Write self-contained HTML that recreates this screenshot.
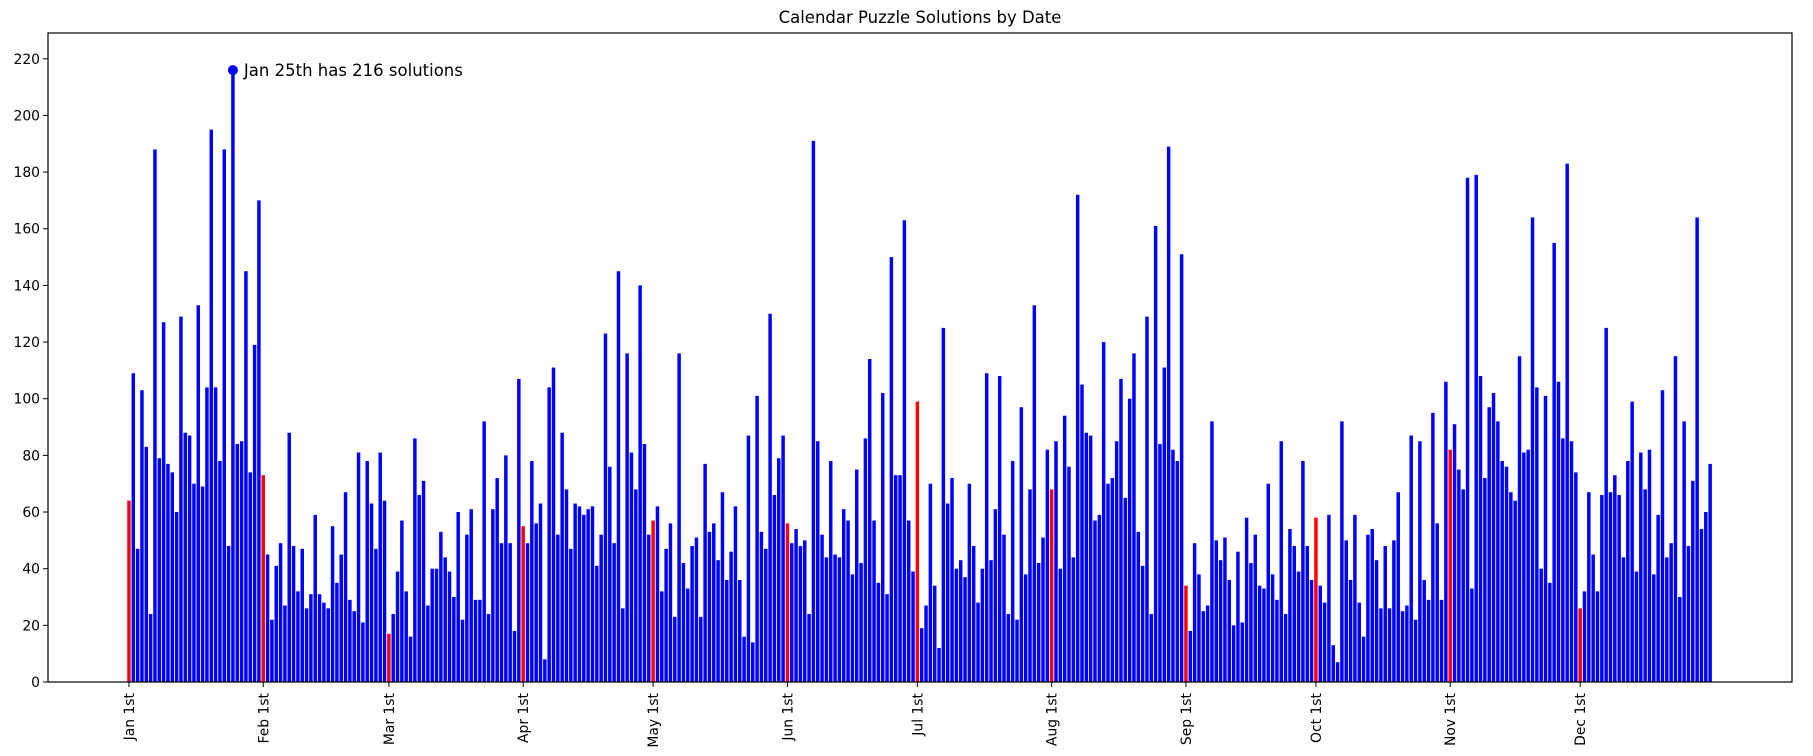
<!DOCTYPE html>
<html><head><meta charset="utf-8"><style>
html,body{margin:0;padding:0;background:#fff;}
svg{display:block;font-family:"DejaVu Sans","Liberation Sans",sans-serif;}
</style></head><body>
<svg id="chart" width="1813" height="756" viewBox="0 0 1813 756" xmlns="http://www.w3.org/2000/svg">
<rect width="1813" height="756" fill="#fff"/>
<text x="920" y="23" text-anchor="middle" font-size="16.5" fill="#000">Calendar Puzzle Solutions by Date</text>
<g id="bars"></g><g id="yaxis"></g><g id="xaxis"></g><g id="annot"></g>
<rect x="48" y="33" width="1744" height="649" fill="none" stroke="#000" stroke-width="1.2"/>
</svg>
<script>
const jan=[64,109,47,103,83,24,188,79,127,77,74,60,129,88,87,70,133,69,104,195,104,78,188,48,216,84,85,145,74,119,170];
const feb=[73,45,22,41,49,27,88,48,32,47,26,31,59,31,28,26,55,35,45,67,29,25,81,21,78,63,47,81,64];
const mar=[17,24,39,57,32,16,86,66,71,27,40,40,53,44,39,30,60,22,52,61,29,29,92,24,61,72,49,80,49,18,107];
const apr=[55,49,78,56,63,8,104,111,52,88,68,47,63,62,59,61,62,41,52,123,76,49,145,26,116,81,68,140,84,52];
const may=[57,62,32,47,56,23,116,42,33,48,51,23,77,53,56,43,67,36,46,62,36,16,87,14,101,53,47,130,66,79,87];
const jun=[56,49,54,48,50,24,191,85,52,44,78,45,44,61,57,38,75,42,86,114,57,35,102,31,150,73,73,163,57,39];
const jul=[99,19,27,70,34,12,125,63,72,40,43,37,70,48,28,40,109,43,61,108,52,24,78,22,97,38,68,133,42,51,82];
const aug=[68,85,40,94,76,44,172,105,88,87,57,59,120,70,72,85,107,65,100,116,53,41,129,24,161,84,111,189,82,78,151];
const sep=[34,18,49,38,25,27,92,50,43,51,36,20,46,21,58,42,52,34,33,70,38,29,85,24,54,48,39,78,48,36];
const oct=[58,34,28,59,13,7,92,50,36,59,28,16,52,54,43,26,48,26,50,67,25,27,87,22,85,36,29,95,56,29,106];
const nov=[82,91,75,68,178,33,179,108,72,97,102,92,78,76,67,64,115,81,82,164,104,40,101,35,155,106,86,183,85,74];
const dec=[26,32,67,45,32,66,125,67,73,66,44,78,99,39,81,68,82,38,59,103,44,49,115,30,92,48,71,164,54,60,77];
const monthLabels=["Jan 1st","Feb 1st","Mar 1st","Apr 1st","May 1st","Jun 1st","Jul 1st","Aug 1st","Sep 1st","Oct 1st","Nov 1st","Dec 1st"];
const yTicks=[0,20,40,60,80,100,120,140,160,180,200,220];
const annotText="Jan 25th has 216 solutions";

const NS="http://www.w3.org/2000/svg";
const months=[jan,feb,mar,apr,may,jun,jul,aug,sep,oct,nov,dec];
const X0=48,X1=1792,XMIN=-18.69,XMAX=383.9;
const Y0=682,Y1=33,YMAX=229.1;
const sx=d=>X0+(d-XMIN)/(XMAX-XMIN)*(X1-X0);
const sy=v=>Y0-v/YMAX*(Y0-Y1);
const bw=(sx(0.8)-sx(0));
function mk(tag,attrs,parent){const e=document.createElementNS(NS,tag);for(const k in attrs)e.setAttribute(k,attrs[k]);parent.appendChild(e);return e;}
const gb=document.getElementById('bars'),gx=document.getElementById('xaxis'),gy=document.getElementById('yaxis'),ga=document.getElementById('annot');
let day=0;const starts=[];let maxV=-1,maxD=0;
months.forEach((m,mi)=>{starts.push(day);m.forEach((v,i)=>{
  const r=mk('rect',{x:sx(day)-bw/2,y:sy(v),width:bw,height:sy(0)-sy(v),fill:i===0?'#ff0000':'#0000ff'},gb);
  
  
  if(v>maxV){maxV=v;maxD=day;}
  day++;});});
starts.forEach((d,i)=>{
  const x=sx(d);
  const t=mk('line',{x1:x,x2:x,y1:Y0,y2:Y0+5,stroke:'#000','stroke-width':1},gx);
  
  
  const l=mk('text',{transform:`translate(${x+5},693) rotate(-90)`,'text-anchor':'end','font-size':'13.9',fill:'#000'},gx);
  
  
  l.textContent=monthLabels[i];
});
yTicks.forEach(v=>{
  const y=sy(v);
  const t=mk('line',{x1:X0-5,x2:X0,y1:y,y2:y,stroke:'#000','stroke-width':1},gy);
  
  
  const l=mk('text',{x:X0-8,y:y+5,'text-anchor':'end','font-size':'13.9',fill:'#000'},gy);
  
  
  l.textContent=v;
});
const c=mk('circle',{cx:sx(maxD),cy:sy(maxV),r:5,fill:'#0000ff'},ga);


const at=mk('text',{x:sx(maxD)+11,y:sy(maxV)+6,'font-size':'16.5',fill:'#000'},ga);


at.textContent=annotText;
</script>
</body></html>
